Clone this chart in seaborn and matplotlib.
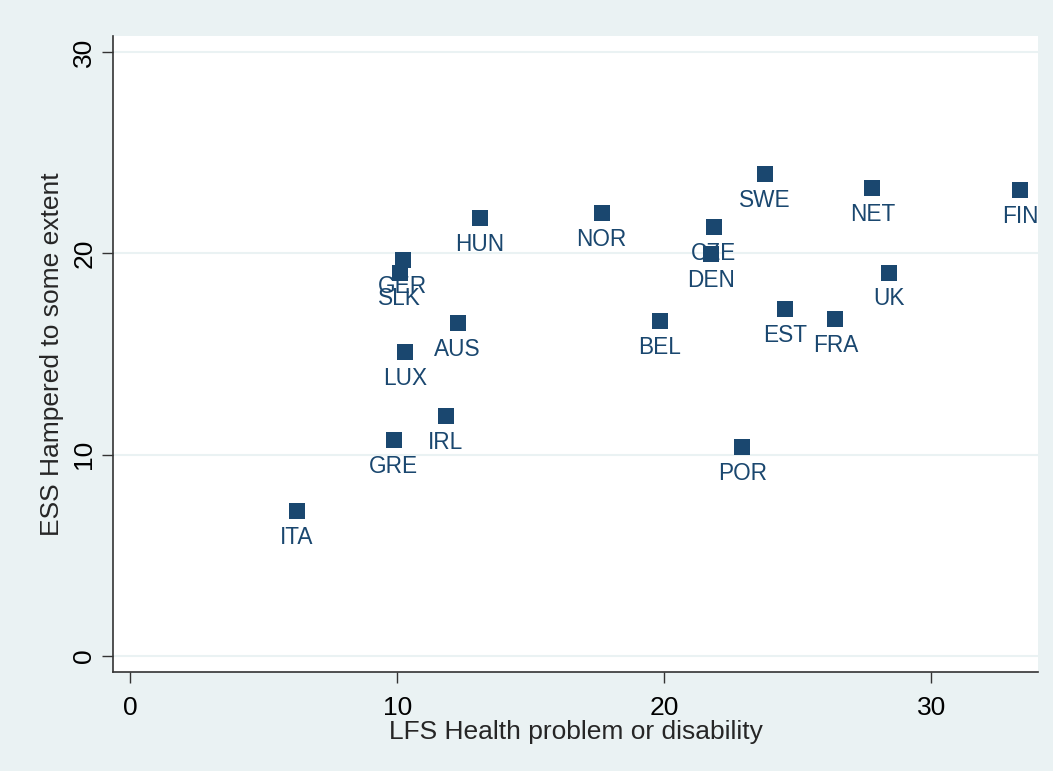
import matplotlib
matplotlib.use("Agg")
import matplotlib.pyplot as plt
import seaborn as sns
import pandas as pd

# country codes and their two survey measures (percent)
countries = ["ITA", "GRE", "IRL", "LUX", "SLK", "GER", "AUS", "HUN", "NOR", "BEL",
             "CZE", "DEN", "POR", "SWE", "EST", "FRA", "NET", "UK", "FIN"]
lfs_health = [6.25, 9.88, 11.82, 10.29, 10.10, 10.21, 12.27, 13.09, 17.66, 19.83,
              21.85, 21.74, 22.93, 23.76, 24.54, 26.41, 27.80, 28.43, 33.33]
ess_hampered = [7.2, 10.73, 11.92, 15.1, 19.03, 19.67, 16.54, 21.76, 22.0, 16.64,
                21.31, 19.97, 10.38, 23.94, 17.24, 16.74, 23.25, 19.03, 23.15]

df = pd.DataFrame({"country": countries, "lfs": lfs_health, "ess": ess_hampered})

NAVY = "#1a476f"
BG = "#eaf2f3"

sns.set_theme(style="white")
plt.rcParams['font.family'] = ['Liberation Sans', 'DejaVu Sans']

fig = plt.figure(figsize=(10.53, 7.71), dpi=100, facecolor=BG)
ax = fig.add_axes([0.1073, 0.1284, 0.8785, 0.8249])
ax.set_facecolor("white")

sns.scatterplot(data=df, x="lfs", y="ess", marker="s", s=120, color=NAVY,
                edgecolor=NAVY, linewidth=0, ax=ax, zorder=3)

for _, r in df.iterrows():
    ax.annotate(r["country"], (r["lfs"], r["ess"]), xytext=(0, -10.5),
                textcoords="offset points", ha="center", va="top",
                fontsize=16.3, color=NAVY, zorder=4)

ax.set_xlim(-0.64, 34.0)
ax.set_ylim(-0.8, 30.8)
ax.set_xticks([0, 10, 20, 30])
ax.set_yticks([0, 10, 20, 30])
ax.yaxis.grid(True, color=BG, linewidth=1.5)
ax.set_axisbelow(True)

for s in ["top", "right"]:
    ax.spines[s].set_visible(False)
for s in ["left", "bottom"]:
    ax.spines[s].set_color("#333333")
    ax.spines[s].set_linewidth(1.2)

ax.tick_params(axis="both", which="major", length=8, width=1, color="#333333",
               labelsize=19, labelcolor="black", direction="out", left=True, bottom=True)
ax.tick_params(axis="x", pad=9)
ax.tick_params(axis="y", pad=4)
plt.setp(ax.get_yticklabels(), rotation=90, va="center")

ax.set_xlabel("LFS Health problem or disability", fontsize=19, labelpad=0)
ax.set_ylabel("ESS Hampered to some extent", fontsize=19, labelpad=6)

fig.savefig("out.png", dpi=100, facecolor=BG)
